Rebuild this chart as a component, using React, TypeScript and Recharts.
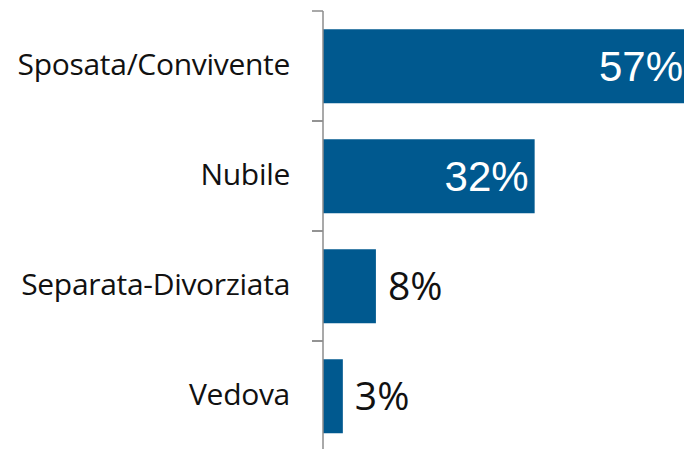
import React from 'react';
import { BarChart, Bar, XAxis, YAxis, LabelList } from 'recharts';

const categories = ['Sposata/Convivente', 'Nubile', 'Separata-Divorziata', 'Vedova'];
const shares = [57, 32, 8, 3];

const data = categories.map((name, i) => ({ name, value: shares[i] }));

const VIEW_W = 684;
const CHART_H = 470;
const TOP = 11;
const BOTTOM = 19;
const BAND = (CHART_H - TOP - BOTTOM) / categories.length;

function CategoryTick(props: any) {
  const { x, y, payload } = props;
  return (
    <g>
      <line x1={x - 11} x2={x} y1={y - BAND / 2} y2={y - BAND / 2} stroke="#8c8c8c" strokeWidth={1.5} />
      <line x1={x - 11} x2={x} y1={y + BAND / 2} y2={y + BAND / 2} stroke="#8c8c8c" strokeWidth={1.5} />
      <text x={x - 33} y={y} dy={9} textAnchor="end" fill="#111" fontSize={30} letterSpacing={-0.3}
        fontFamily="'Open Sans', sans-serif">
        {payload.value}
      </text>
    </g>
  );
}

function ValueLabel(props: any) {
  const { x, y, width, height, value } = props;
  const inside = value >= 20;
  if (inside) {
    // keep the label inside the visible area when the bar runs past the edge
    const right = Math.min(x + width - 6, VIEW_W - 1);
    return (
      <text x={right} y={y + height / 2} dy={15} textAnchor="end" fill="#fff" fontSize={42}
        fontFamily="'Liberation Sans', Arial, sans-serif">
        {value}%
      </text>
    );
  }
  return (
    <text x={x + width + 12} y={y + height / 2} dy={14} textAnchor="start" fill="#111" fontSize={39}
      fontFamily="'Open Sans', sans-serif">
      {value}%
    </text>
  );
}

export default function App() {
  return (
    <div style={{ position: 'fixed', top: 0, left: 0, width: VIEW_W, height: 449, overflow: 'hidden', background: '#fff' }}>
      <BarChart
        width={720}
        height={CHART_H}
        data={data}
        layout="vertical"
        margin={{ top: TOP, right: 20, bottom: BOTTOM, left: 0 }}
        barCategoryGap="16.5%"
      >
        <XAxis type="number" domain={[0, 57]} hide />
        <YAxis
          type="category"
          dataKey="name"
          width={323}
          axisLine={{ stroke: '#8c8c8c', strokeWidth: 1.5 }}
          tickLine={false}
          tickSize={0}
          tickMargin={0}
          tick={<CategoryTick />}
          interval={0}
        />
        <Bar dataKey="value" fill="#00598f" isAnimationActive={false}>
          <LabelList dataKey="value" content={<ValueLabel />} />
        </Bar>
      </BarChart>
    </div>
  );
}
